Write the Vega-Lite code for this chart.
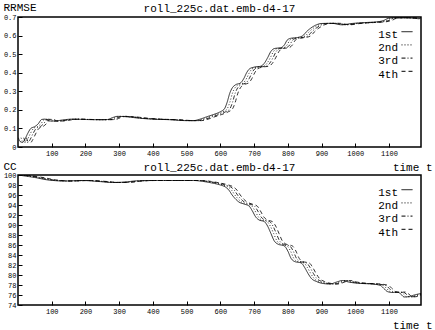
{
  "$schema": "https://vega.github.io/schema/vega-lite/v6.json",
  "padding": {"left": 2, "top": 0, "right": 0, "bottom": 0},
  "background": "white",
  "spacing": 28,
  "bounds": "flush",
  "config": {
    "font": "Liberation Mono",
    "view": {"stroke": "black", "strokeWidth": 1.5},
    "axis": {"labelFont": "Liberation Mono", "labelFontSize": 7, "labelColor": "black", "tickColor": "black", "domain": false, "grid": false, "tickSize": -4, "labelPadding": 6, "titleFont": "Liberation Mono", "titleFontSize": 11, "titleFontWeight": "normal", "titleColor": "black"},
    "legend": {"orient": "none", "symbolType": "M-1,-0.6H1", "symbolSize": 121, "symbolStrokeColor": "black", "symbolStrokeWidth": 1, "labelFont": "Liberation Mono", "labelFontSize": 11, "labelColor": "black", "labelAlign": "right", "labelOffset": -15, "labelBaseline": "middle", "rowPadding": 2.2, "title": null},
    "title": {"font": "Liberation Mono", "fontSize": 11, "fontWeight": "normal", "color": "black", "offset": -13, "anchor": "middle"}
  },
  "resolve": {"scale": {"x": "independent", "y": "independent", "strokeDash": "independent"}, "legend": {"strokeDash": "independent"}},
  "datasets": {
    "rr": [
      {"s":"1st","t":1,"v":0.05},{"s":"1st","t":6,"v":0.03},{"s":"1st","t":14,"v":0.025},{"s":"1st","t":20,"v":0.04},{"s":"1st","t":28,"v":0.07},{"s":"1st","t":38,"v":0.10},{"s":"1st","t":50,"v":0.11},{"s":"1st","t":60,"v":0.125},{"s":"1st","t":70,"v":0.148},{"s":"1st","t":80,"v":0.15},{"s":"1st","t":92,"v":0.14},{"s":"1st","t":110,"v":0.14},{"s":"1st","t":130,"v":0.145},{"s":"1st","t":160,"v":0.15},{"s":"1st","t":200,"v":0.148},{"s":"1st","t":240,"v":0.147},{"s":"1st","t":265,"v":0.148},{"s":"1st","t":280,"v":0.158},{"s":"1st","t":295,"v":0.165},{"s":"1st","t":320,"v":0.163},{"s":"1st","t":360,"v":0.155},{"s":"1st","t":400,"v":0.15},{"s":"1st","t":450,"v":0.147},{"s":"1st","t":500,"v":0.142},{"s":"1st","t":520,"v":0.142},{"s":"1st","t":540,"v":0.15},{"s":"1st","t":560,"v":0.163},{"s":"1st","t":580,"v":0.175},{"s":"1st","t":600,"v":0.19},{"s":"1st","t":612,"v":0.205},{"s":"1st","t":620,"v":0.24},{"s":"1st","t":628,"v":0.29},{"s":"1st","t":636,"v":0.32},{"s":"1st","t":645,"v":0.335},{"s":"1st","t":660,"v":0.345},{"s":"1st","t":670,"v":0.37},{"s":"1st","t":678,"v":0.40},{"s":"1st","t":686,"v":0.42},{"s":"1st","t":700,"v":0.43},{"s":"1st","t":720,"v":0.435},{"s":"1st","t":730,"v":0.45},{"s":"1st","t":740,"v":0.48},{"s":"1st","t":750,"v":0.515},{"s":"1st","t":760,"v":0.53},{"s":"1st","t":780,"v":0.535},{"s":"1st","t":790,"v":0.55},{"s":"1st","t":798,"v":0.575},{"s":"1st","t":808,"v":0.585},{"s":"1st","t":830,"v":0.59},{"s":"1st","t":845,"v":0.60},{"s":"1st","t":855,"v":0.62},{"s":"1st","t":868,"v":0.64},{"s":"1st","t":885,"v":0.658},{"s":"1st","t":900,"v":0.665},{"s":"1st","t":930,"v":0.666},{"s":"1st","t":960,"v":0.658},{"s":"1st","t":990,"v":0.665},{"s":"1st","t":1030,"v":0.67},{"s":"1st","t":1070,"v":0.675},{"s":"1st","t":1085,"v":0.682},{"s":"1st","t":1100,"v":0.694},{"s":"1st","t":1130,"v":0.696},{"s":"1st","t":1160,"v":0.695},{"s":"1st","t":1190,"v":0.69},
      {"s":"2nd","t":9,"v":0.05},{"s":"2nd","t":14,"v":0.03},{"s":"2nd","t":22,"v":0.025},{"s":"2nd","t":28,"v":0.04},{"s":"2nd","t":36,"v":0.07},{"s":"2nd","t":46,"v":0.10},{"s":"2nd","t":58,"v":0.11},{"s":"2nd","t":68,"v":0.125},{"s":"2nd","t":78,"v":0.148},{"s":"2nd","t":88,"v":0.15},{"s":"2nd","t":100,"v":0.14},{"s":"2nd","t":118,"v":0.14},{"s":"2nd","t":138,"v":0.145},{"s":"2nd","t":168,"v":0.15},{"s":"2nd","t":208,"v":0.148},{"s":"2nd","t":248,"v":0.147},{"s":"2nd","t":273,"v":0.148},{"s":"2nd","t":288,"v":0.158},{"s":"2nd","t":303,"v":0.165},{"s":"2nd","t":328,"v":0.163},{"s":"2nd","t":368,"v":0.155},{"s":"2nd","t":408,"v":0.15},{"s":"2nd","t":458,"v":0.147},{"s":"2nd","t":508,"v":0.142},{"s":"2nd","t":528,"v":0.142},{"s":"2nd","t":548,"v":0.15},{"s":"2nd","t":568,"v":0.163},{"s":"2nd","t":588,"v":0.175},{"s":"2nd","t":608,"v":0.19},{"s":"2nd","t":620,"v":0.205},{"s":"2nd","t":628,"v":0.24},{"s":"2nd","t":636,"v":0.29},{"s":"2nd","t":644,"v":0.32},{"s":"2nd","t":653,"v":0.335},{"s":"2nd","t":668,"v":0.345},{"s":"2nd","t":678,"v":0.37},{"s":"2nd","t":686,"v":0.40},{"s":"2nd","t":694,"v":0.42},{"s":"2nd","t":708,"v":0.43},{"s":"2nd","t":728,"v":0.435},{"s":"2nd","t":738,"v":0.45},{"s":"2nd","t":748,"v":0.48},{"s":"2nd","t":758,"v":0.515},{"s":"2nd","t":768,"v":0.53},{"s":"2nd","t":788,"v":0.535},{"s":"2nd","t":798,"v":0.55},{"s":"2nd","t":806,"v":0.575},{"s":"2nd","t":816,"v":0.585},{"s":"2nd","t":838,"v":0.59},{"s":"2nd","t":853,"v":0.60},{"s":"2nd","t":863,"v":0.62},{"s":"2nd","t":876,"v":0.64},{"s":"2nd","t":893,"v":0.658},{"s":"2nd","t":908,"v":0.665},{"s":"2nd","t":938,"v":0.666},{"s":"2nd","t":968,"v":0.658},{"s":"2nd","t":998,"v":0.665},{"s":"2nd","t":1038,"v":0.67},{"s":"2nd","t":1078,"v":0.675},{"s":"2nd","t":1093,"v":0.682},{"s":"2nd","t":1108,"v":0.694},{"s":"2nd","t":1138,"v":0.696},{"s":"2nd","t":1168,"v":0.695},{"s":"2nd","t":1198,"v":0.69},
      {"s":"3rd","t":17,"v":0.05},{"s":"3rd","t":22,"v":0.03},{"s":"3rd","t":30,"v":0.025},{"s":"3rd","t":36,"v":0.04},{"s":"3rd","t":44,"v":0.07},{"s":"3rd","t":54,"v":0.10},{"s":"3rd","t":66,"v":0.11},{"s":"3rd","t":76,"v":0.125},{"s":"3rd","t":86,"v":0.148},{"s":"3rd","t":96,"v":0.15},{"s":"3rd","t":108,"v":0.14},{"s":"3rd","t":126,"v":0.14},{"s":"3rd","t":146,"v":0.145},{"s":"3rd","t":176,"v":0.15},{"s":"3rd","t":216,"v":0.148},{"s":"3rd","t":256,"v":0.147},{"s":"3rd","t":281,"v":0.148},{"s":"3rd","t":296,"v":0.158},{"s":"3rd","t":311,"v":0.165},{"s":"3rd","t":336,"v":0.163},{"s":"3rd","t":376,"v":0.155},{"s":"3rd","t":416,"v":0.15},{"s":"3rd","t":466,"v":0.147},{"s":"3rd","t":516,"v":0.142},{"s":"3rd","t":536,"v":0.142},{"s":"3rd","t":556,"v":0.15},{"s":"3rd","t":576,"v":0.163},{"s":"3rd","t":596,"v":0.175},{"s":"3rd","t":616,"v":0.19},{"s":"3rd","t":628,"v":0.205},{"s":"3rd","t":636,"v":0.24},{"s":"3rd","t":644,"v":0.29},{"s":"3rd","t":652,"v":0.32},{"s":"3rd","t":661,"v":0.335},{"s":"3rd","t":676,"v":0.345},{"s":"3rd","t":686,"v":0.37},{"s":"3rd","t":694,"v":0.40},{"s":"3rd","t":702,"v":0.42},{"s":"3rd","t":716,"v":0.43},{"s":"3rd","t":736,"v":0.435},{"s":"3rd","t":746,"v":0.45},{"s":"3rd","t":756,"v":0.48},{"s":"3rd","t":766,"v":0.515},{"s":"3rd","t":776,"v":0.53},{"s":"3rd","t":796,"v":0.535},{"s":"3rd","t":806,"v":0.55},{"s":"3rd","t":814,"v":0.575},{"s":"3rd","t":824,"v":0.585},{"s":"3rd","t":846,"v":0.59},{"s":"3rd","t":861,"v":0.60},{"s":"3rd","t":871,"v":0.62},{"s":"3rd","t":884,"v":0.64},{"s":"3rd","t":901,"v":0.658},{"s":"3rd","t":916,"v":0.665},{"s":"3rd","t":946,"v":0.666},{"s":"3rd","t":976,"v":0.658},{"s":"3rd","t":1006,"v":0.665},{"s":"3rd","t":1046,"v":0.67},{"s":"3rd","t":1086,"v":0.675},{"s":"3rd","t":1101,"v":0.682},{"s":"3rd","t":1116,"v":0.694},{"s":"3rd","t":1146,"v":0.696},{"s":"3rd","t":1176,"v":0.695},{"s":"3rd","t":1206,"v":0.69},
      {"s":"4th","t":25,"v":0.05},{"s":"4th","t":30,"v":0.03},{"s":"4th","t":38,"v":0.025},{"s":"4th","t":44,"v":0.04},{"s":"4th","t":52,"v":0.07},{"s":"4th","t":62,"v":0.10},{"s":"4th","t":74,"v":0.11},{"s":"4th","t":84,"v":0.125},{"s":"4th","t":94,"v":0.148},{"s":"4th","t":104,"v":0.15},{"s":"4th","t":116,"v":0.14},{"s":"4th","t":134,"v":0.14},{"s":"4th","t":154,"v":0.145},{"s":"4th","t":184,"v":0.15},{"s":"4th","t":224,"v":0.148},{"s":"4th","t":264,"v":0.147},{"s":"4th","t":289,"v":0.148},{"s":"4th","t":304,"v":0.158},{"s":"4th","t":319,"v":0.165},{"s":"4th","t":344,"v":0.163},{"s":"4th","t":384,"v":0.155},{"s":"4th","t":424,"v":0.15},{"s":"4th","t":474,"v":0.147},{"s":"4th","t":524,"v":0.142},{"s":"4th","t":544,"v":0.142},{"s":"4th","t":564,"v":0.15},{"s":"4th","t":584,"v":0.163},{"s":"4th","t":604,"v":0.175},{"s":"4th","t":624,"v":0.19},{"s":"4th","t":636,"v":0.205},{"s":"4th","t":644,"v":0.24},{"s":"4th","t":652,"v":0.29},{"s":"4th","t":660,"v":0.32},{"s":"4th","t":669,"v":0.335},{"s":"4th","t":684,"v":0.345},{"s":"4th","t":694,"v":0.37},{"s":"4th","t":702,"v":0.40},{"s":"4th","t":710,"v":0.42},{"s":"4th","t":724,"v":0.43},{"s":"4th","t":744,"v":0.435},{"s":"4th","t":754,"v":0.45},{"s":"4th","t":764,"v":0.48},{"s":"4th","t":774,"v":0.515},{"s":"4th","t":784,"v":0.53},{"s":"4th","t":804,"v":0.535},{"s":"4th","t":814,"v":0.55},{"s":"4th","t":822,"v":0.575},{"s":"4th","t":832,"v":0.585},{"s":"4th","t":854,"v":0.59},{"s":"4th","t":869,"v":0.60},{"s":"4th","t":879,"v":0.62},{"s":"4th","t":892,"v":0.64},{"s":"4th","t":909,"v":0.658},{"s":"4th","t":924,"v":0.665},{"s":"4th","t":954,"v":0.666},{"s":"4th","t":984,"v":0.658},{"s":"4th","t":1014,"v":0.665},{"s":"4th","t":1054,"v":0.67},{"s":"4th","t":1094,"v":0.675},{"s":"4th","t":1109,"v":0.682},{"s":"4th","t":1124,"v":0.694},{"s":"4th","t":1154,"v":0.696},{"s":"4th","t":1184,"v":0.695},{"s":"4th","t":1214,"v":0.69}
    ],
    "cc": [
      {"s":"1st","t":1,"v":100.0},{"s":"1st","t":20,"v":99.8},{"s":"1st","t":50,"v":99.5},{"s":"1st","t":90,"v":99.0},{"s":"1st","t":140,"v":98.8},{"s":"1st","t":190,"v":98.9},{"s":"1st","t":240,"v":98.7},{"s":"1st","t":280,"v":98.5},{"s":"1st","t":320,"v":98.6},{"s":"1st","t":345,"v":98.8},{"s":"1st","t":390,"v":98.9},{"s":"1st","t":450,"v":98.9},{"s":"1st","t":520,"v":98.9},{"s":"1st","t":550,"v":98.7},{"s":"1st","t":575,"v":98.4},{"s":"1st","t":600,"v":98.0},{"s":"1st","t":615,"v":97.6},{"s":"1st","t":625,"v":97.0},{"s":"1st","t":635,"v":96.0},{"s":"1st","t":645,"v":95.2},{"s":"1st","t":655,"v":94.6},{"s":"1st","t":670,"v":94.2},{"s":"1st","t":685,"v":93.8},{"s":"1st","t":695,"v":92.8},{"s":"1st","t":705,"v":91.6},{"s":"1st","t":715,"v":91.0},{"s":"1st","t":730,"v":90.7},{"s":"1st","t":740,"v":89.8},{"s":"1st","t":750,"v":88.3},{"s":"1st","t":760,"v":86.8},{"s":"1st","t":770,"v":86.2},{"s":"1st","t":790,"v":85.8},{"s":"1st","t":800,"v":84.8},{"s":"1st","t":810,"v":83.3},{"s":"1st","t":820,"v":82.7},{"s":"1st","t":840,"v":82.4},{"s":"1st","t":850,"v":81.5},{"s":"1st","t":860,"v":80.3},{"s":"1st","t":870,"v":79.3},{"s":"1st","t":885,"v":78.7},{"s":"1st","t":905,"v":78.3},{"s":"1st","t":925,"v":78.2},{"s":"1st","t":945,"v":78.6},{"s":"1st","t":962,"v":78.9},{"s":"1st","t":980,"v":78.6},{"s":"1st","t":1000,"v":78.4},{"s":"1st","t":1020,"v":78.3},{"s":"1st","t":1050,"v":78.2},{"s":"1st","t":1075,"v":77.9},{"s":"1st","t":1085,"v":77.3},{"s":"1st","t":1095,"v":76.7},{"s":"1st","t":1110,"v":76.5},{"s":"1st","t":1125,"v":76.6},{"s":"1st","t":1135,"v":76.2},{"s":"1st","t":1145,"v":75.6},{"s":"1st","t":1160,"v":75.7},{"s":"1st","t":1175,"v":76.0},{"s":"1st","t":1195,"v":76.3},
      {"s":"2nd","t":9,"v":100.0},{"s":"2nd","t":28,"v":99.8},{"s":"2nd","t":58,"v":99.5},{"s":"2nd","t":98,"v":99.0},{"s":"2nd","t":148,"v":98.8},{"s":"2nd","t":198,"v":98.9},{"s":"2nd","t":248,"v":98.7},{"s":"2nd","t":288,"v":98.5},{"s":"2nd","t":328,"v":98.6},{"s":"2nd","t":353,"v":98.8},{"s":"2nd","t":398,"v":98.9},{"s":"2nd","t":458,"v":98.9},{"s":"2nd","t":528,"v":98.9},{"s":"2nd","t":558,"v":98.7},{"s":"2nd","t":583,"v":98.4},{"s":"2nd","t":608,"v":98.0},{"s":"2nd","t":623,"v":97.6},{"s":"2nd","t":633,"v":97.0},{"s":"2nd","t":643,"v":96.0},{"s":"2nd","t":653,"v":95.2},{"s":"2nd","t":663,"v":94.6},{"s":"2nd","t":678,"v":94.2},{"s":"2nd","t":693,"v":93.8},{"s":"2nd","t":703,"v":92.8},{"s":"2nd","t":713,"v":91.6},{"s":"2nd","t":723,"v":91.0},{"s":"2nd","t":738,"v":90.7},{"s":"2nd","t":748,"v":89.8},{"s":"2nd","t":758,"v":88.3},{"s":"2nd","t":768,"v":86.8},{"s":"2nd","t":778,"v":86.2},{"s":"2nd","t":798,"v":85.8},{"s":"2nd","t":808,"v":84.8},{"s":"2nd","t":818,"v":83.3},{"s":"2nd","t":828,"v":82.7},{"s":"2nd","t":848,"v":82.4},{"s":"2nd","t":858,"v":81.5},{"s":"2nd","t":868,"v":80.3},{"s":"2nd","t":878,"v":79.3},{"s":"2nd","t":893,"v":78.7},{"s":"2nd","t":913,"v":78.3},{"s":"2nd","t":933,"v":78.2},{"s":"2nd","t":953,"v":78.6},{"s":"2nd","t":970,"v":78.9},{"s":"2nd","t":988,"v":78.6},{"s":"2nd","t":1008,"v":78.4},{"s":"2nd","t":1028,"v":78.3},{"s":"2nd","t":1058,"v":78.2},{"s":"2nd","t":1083,"v":77.9},{"s":"2nd","t":1093,"v":77.3},{"s":"2nd","t":1103,"v":76.7},{"s":"2nd","t":1118,"v":76.5},{"s":"2nd","t":1133,"v":76.6},{"s":"2nd","t":1143,"v":76.2},{"s":"2nd","t":1153,"v":75.6},{"s":"2nd","t":1168,"v":75.7},{"s":"2nd","t":1183,"v":76.0},{"s":"2nd","t":1203,"v":76.3},
      {"s":"3rd","t":17,"v":100.0},{"s":"3rd","t":36,"v":99.8},{"s":"3rd","t":66,"v":99.5},{"s":"3rd","t":106,"v":99.0},{"s":"3rd","t":156,"v":98.8},{"s":"3rd","t":206,"v":98.9},{"s":"3rd","t":256,"v":98.7},{"s":"3rd","t":296,"v":98.5},{"s":"3rd","t":336,"v":98.6},{"s":"3rd","t":361,"v":98.8},{"s":"3rd","t":406,"v":98.9},{"s":"3rd","t":466,"v":98.9},{"s":"3rd","t":536,"v":98.9},{"s":"3rd","t":566,"v":98.7},{"s":"3rd","t":591,"v":98.4},{"s":"3rd","t":616,"v":98.0},{"s":"3rd","t":631,"v":97.6},{"s":"3rd","t":641,"v":97.0},{"s":"3rd","t":651,"v":96.0},{"s":"3rd","t":661,"v":95.2},{"s":"3rd","t":671,"v":94.6},{"s":"3rd","t":686,"v":94.2},{"s":"3rd","t":701,"v":93.8},{"s":"3rd","t":711,"v":92.8},{"s":"3rd","t":721,"v":91.6},{"s":"3rd","t":731,"v":91.0},{"s":"3rd","t":746,"v":90.7},{"s":"3rd","t":756,"v":89.8},{"s":"3rd","t":766,"v":88.3},{"s":"3rd","t":776,"v":86.8},{"s":"3rd","t":786,"v":86.2},{"s":"3rd","t":806,"v":85.8},{"s":"3rd","t":816,"v":84.8},{"s":"3rd","t":826,"v":83.3},{"s":"3rd","t":836,"v":82.7},{"s":"3rd","t":856,"v":82.4},{"s":"3rd","t":866,"v":81.5},{"s":"3rd","t":876,"v":80.3},{"s":"3rd","t":886,"v":79.3},{"s":"3rd","t":901,"v":78.7},{"s":"3rd","t":921,"v":78.3},{"s":"3rd","t":941,"v":78.2},{"s":"3rd","t":961,"v":78.6},{"s":"3rd","t":978,"v":78.9},{"s":"3rd","t":996,"v":78.6},{"s":"3rd","t":1016,"v":78.4},{"s":"3rd","t":1036,"v":78.3},{"s":"3rd","t":1066,"v":78.2},{"s":"3rd","t":1091,"v":77.9},{"s":"3rd","t":1101,"v":77.3},{"s":"3rd","t":1111,"v":76.7},{"s":"3rd","t":1126,"v":76.5},{"s":"3rd","t":1141,"v":76.6},{"s":"3rd","t":1151,"v":76.2},{"s":"3rd","t":1161,"v":75.6},{"s":"3rd","t":1176,"v":75.7},{"s":"3rd","t":1191,"v":76.0},{"s":"3rd","t":1211,"v":76.3},
      {"s":"4th","t":25,"v":100.0},{"s":"4th","t":44,"v":99.8},{"s":"4th","t":74,"v":99.5},{"s":"4th","t":114,"v":99.0},{"s":"4th","t":164,"v":98.8},{"s":"4th","t":214,"v":98.9},{"s":"4th","t":264,"v":98.7},{"s":"4th","t":304,"v":98.5},{"s":"4th","t":344,"v":98.6},{"s":"4th","t":369,"v":98.8},{"s":"4th","t":414,"v":98.9},{"s":"4th","t":474,"v":98.9},{"s":"4th","t":544,"v":98.9},{"s":"4th","t":574,"v":98.7},{"s":"4th","t":599,"v":98.4},{"s":"4th","t":624,"v":98.0},{"s":"4th","t":639,"v":97.6},{"s":"4th","t":649,"v":97.0},{"s":"4th","t":659,"v":96.0},{"s":"4th","t":669,"v":95.2},{"s":"4th","t":679,"v":94.6},{"s":"4th","t":694,"v":94.2},{"s":"4th","t":709,"v":93.8},{"s":"4th","t":719,"v":92.8},{"s":"4th","t":729,"v":91.6},{"s":"4th","t":739,"v":91.0},{"s":"4th","t":754,"v":90.7},{"s":"4th","t":764,"v":89.8},{"s":"4th","t":774,"v":88.3},{"s":"4th","t":784,"v":86.8},{"s":"4th","t":794,"v":86.2},{"s":"4th","t":814,"v":85.8},{"s":"4th","t":824,"v":84.8},{"s":"4th","t":834,"v":83.3},{"s":"4th","t":844,"v":82.7},{"s":"4th","t":864,"v":82.4},{"s":"4th","t":874,"v":81.5},{"s":"4th","t":884,"v":80.3},{"s":"4th","t":894,"v":79.3},{"s":"4th","t":909,"v":78.7},{"s":"4th","t":929,"v":78.3},{"s":"4th","t":949,"v":78.2},{"s":"4th","t":969,"v":78.6},{"s":"4th","t":986,"v":78.9},{"s":"4th","t":1004,"v":78.6},{"s":"4th","t":1024,"v":78.4},{"s":"4th","t":1044,"v":78.3},{"s":"4th","t":1074,"v":78.2},{"s":"4th","t":1099,"v":77.9},{"s":"4th","t":1109,"v":77.3},{"s":"4th","t":1119,"v":76.7},{"s":"4th","t":1134,"v":76.5},{"s":"4th","t":1149,"v":76.6},{"s":"4th","t":1159,"v":76.2},{"s":"4th","t":1169,"v":75.6},{"s":"4th","t":1184,"v":75.7},{"s":"4th","t":1199,"v":76.0},{"s":"4th","t":1219,"v":76.3}
    ]
  },
  "vconcat": [
    {
      "width": 403,
      "height": 130,
      "title": {"text": "roll_225c.dat.emb-d4-17"},
      "data": {"name": "rr"},
      "mark": {"type": "line", "color": "black", "strokeWidth": 0.8, "clip": true, "interpolate": "monotone"},
      "encoding": {
        "x": {"field": "t", "type": "quantitative", "scale": {"domain": [0, 1195], "nice": false, "zero": false}, "axis": {"values": [100,200,300,400,500,600,700,800,900,1000,1100], "format": "d", "title": "time t", "titleX": 414, "titleY": 20, "titleAlign": "right", "titleBaseline": "middle", "titleAnchor": "end"}},
        "y": {"field": "v", "type": "quantitative", "scale": {"domain": [0, 0.7], "nice": false}, "axis": {"values": [0,0.1,0.2,0.3,0.4,0.5,0.6,0.7], "format": ".1~f", "title": "RRMSE", "titleAngle": 0, "titleX": -15, "titleY": -16, "titleAlign": "left", "titleBaseline": "top", "titleAnchor": "end"}},
        "strokeDash": {"field": "s", "type": "nominal", "scale": {"domain": ["1st","2nd","3rd","4th"], "range": [[1,0],[1,2],[4,2,1,2],[4,3]]}, "legend": {"legendX": 383, "legendY": 12}}
      }
    },
    {
      "width": 403,
      "height": 130,
      "title": {"text": "roll_225c.dat.emb-d4-17"},
      "data": {"name": "cc"},
      "mark": {"type": "line", "color": "black", "strokeWidth": 0.8, "clip": true, "interpolate": "monotone"},
      "encoding": {
        "x": {"field": "t", "type": "quantitative", "scale": {"domain": [0, 1195], "nice": false, "zero": false}, "axis": {"values": [100,200,300,400,500,600,700,800,900,1000,1100], "format": "d", "title": "time t", "titleX": 414, "titleY": 20, "titleAlign": "right", "titleBaseline": "middle", "titleAnchor": "end"}},
        "y": {"field": "v", "type": "quantitative", "scale": {"domain": [74, 100], "nice": false, "zero": false}, "axis": {"values": [74,76,78,80,82,84,86,88,90,92,94,96,98,100], "title": "CC", "titleAngle": 0, "titleX": -15, "titleY": -15, "titleAlign": "left", "titleBaseline": "top", "titleAnchor": "end"}},
        "strokeDash": {"field": "s", "type": "nominal", "scale": {"domain": ["1st","2nd","3rd","4th"], "range": [[1,0],[1,2],[4,2,1,2],[4,3]]}, "legend": {"legendX": 383, "legendY": 12}}
      }
    }
  ]
}
